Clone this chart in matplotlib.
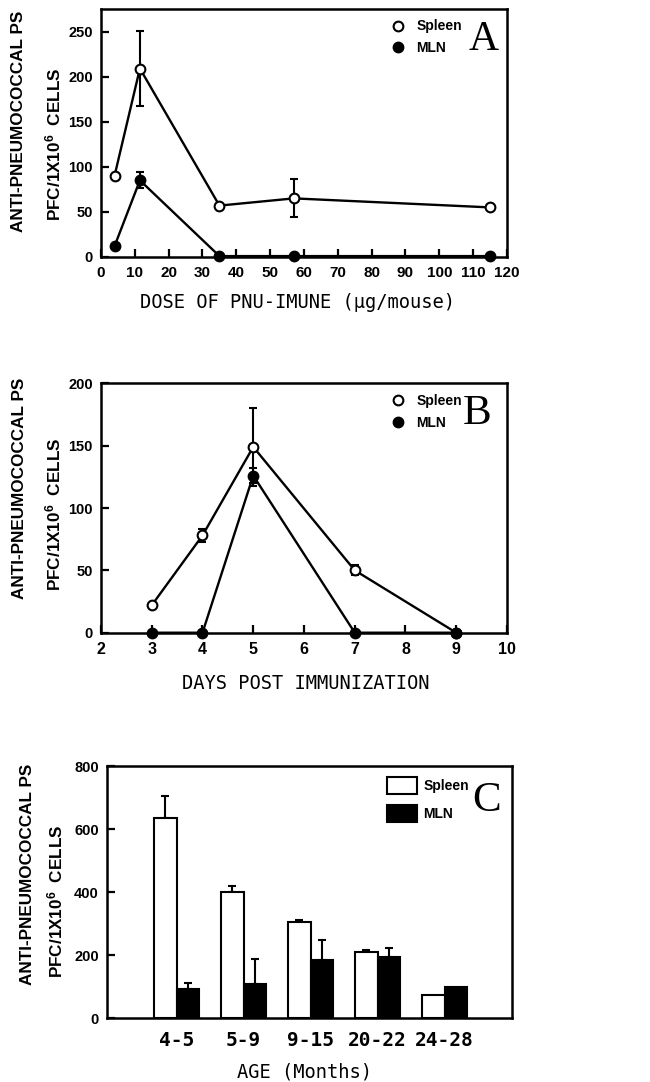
import matplotlib
matplotlib.use('Agg')
import matplotlib.pyplot as plt
import numpy as np
from matplotlib.lines import Line2D
from matplotlib.patches import Patch

plt.rcParams['font.family'] = ['Liberation Sans', 'DejaVu Sans']
plt.rcParams['mathtext.fontset'] = 'custom'
plt.rcParams['mathtext.bf'] = 'Liberation Sans:bold'
plt.rcParams['mathtext.rm'] = 'Liberation Sans:bold'
plt.rcParams['mathtext.default'] = 'bf'

# ---------------- data ----------------
# Panel A
dose = [4, 11.5, 35, 57, 115]
a_spleen = [90, 209, 57, 65, 55]
a_spleen_err = [0, 42, 0, 21, 0]
a_mln = [12, 85, 1, 1, 1]
a_mln_err = [0, 9, 0, 0, 0]
a_xticks = list(range(0, 121, 10))
a_yticks = [0, 50, 100, 150, 200, 250]

# Panel B
days = [3, 4, 5, 7, 9]
b_spleen = [22, 78, 149, 50, 0]
b_spleen_err = [0, 5, 31, 4, 0]
b_mln = [0, 0, 126, 0, 0]
b_mln_err = [0, 0, 6, 0, 0]
b_xticks = list(range(2, 11))
b_yticks = [0, 50, 100, 150, 200]

# Panel C
age_groups = ['4-5', '5-9', '9-15', '20-22', '24-28']
c_spleen = [635, 402, 305, 211, 74]
c_spleen_err = [69, 19, 7, 6, 0]
c_mln = [94, 109, 185, 194, 99]
c_mln_err = [19, 78, 63, 28, 0]
c_yticks = [0, 200, 400, 600, 800]

ylab1 = 'ANTI-PNEUMOCOCCAL PS'
ylab2 = r'PFC/1X10$^{6}$  CELLS'

W, H = 650, 1082
fig = plt.figure(figsize=(W / 100, H / 100), dpi=100)


def ax_at(l, r, t, b):
    return fig.add_axes([l / W, 1 - b / H, (r - l) / W, (b - t) / H])


LW = 1.7


def style(ax, xsize=11, ysize=10.5):
    for s in ax.spines.values():
        s.set_linewidth(1.8)
    ax.tick_params(direction='in', length=6, width=1.6, top=False, right=False)
    ax.tick_params(axis='y', pad=6)
    ax.tick_params(axis='x', pad=6.5)
    for lab in ax.get_xticklabels():
        lab.set_fontsize(xsize)
        lab.set_fontweight('bold')
    for lab in ax.get_yticklabels():
        lab.set_fontsize(ysize)
        lab.set_fontweight('bold')


def errs(ax, x, y, e, cap=3):
    idx = [i for i in range(len(e)) if e[i] > 0]
    if idx:
        ax.errorbar([x[i] for i in idx], [y[i] for i in idx],
                    yerr=[e[i] for i in idx], fmt='none', ecolor='black',
                    elinewidth=1.5, capsize=cap, capthick=1.5, zorder=2,
                    clip_on=False)


def ylabels(x1, y1, x2, y2):
    fig.text(x1 / W, 1 - y1 / H, ylab1, rotation=90, ha='center', va='center',
             fontsize=12.3, fontweight='bold')
    fig.text(x2 / W, 1 - y2 / H, ylab2, rotation=90, ha='center', va='center',
             fontsize=12.3, fontweight='bold')


def line_legend(ax, x0, y0):
    h = [Line2D([], [], ls='none', marker='o', ms=7, mfc='white', mec='black', mew=1.5),
         Line2D([], [], ls='none', marker='o', ms=7, mfc='black', mec='black', mew=1.5)]
    ax.legend(h, ['Spleen', 'MLN'], loc='upper left', bbox_to_anchor=(x0, y0),
              frameon=False, borderpad=0, borderaxespad=0, handlelength=1.0,
              handletextpad=0.85, labelspacing=0.55,
              prop=dict(family='Liberation Sans', weight='bold', size=10))


# ---------------- Panel A ----------------
axA = ax_at(101, 507, 9, 257)
errs(axA, dose, a_spleen, a_spleen_err)
errs(axA, dose, a_mln, a_mln_err)
axA.plot(dose, a_spleen, '-', color='black', lw=LW, marker='o', ms=7,
         mfc='white', mec='black', mew=1.5, zorder=3, clip_on=False)
axA.plot(dose, a_mln, '-', color='black', lw=LW, marker='o', ms=7,
         mfc='black', mec='black', mew=1.5, zorder=3, clip_on=False)
axA.set_xlim(0, 120)
axA.set_ylim(0, 275)
axA.set_xticks(a_xticks)
axA.set_yticks(a_yticks)
style(axA)
axA.set_xlabel(u'DOSE OF PNU-IMUNE (\u00b5g/mouse)', family='DejaVu Sans Mono',
               fontsize=13.5, va='center')
axA.xaxis.set_label_coords(0.484, -0.185)
line_legend(axA, 0.714, 0.958)
axA.text(0.943, 0.875, 'A', transform=axA.transAxes, ha='center', va='center',
         family='Liberation Serif', fontsize=30)
ylabels(19, 121.5, 53.5, 144.5)

# ---------------- Panel B ----------------
axB = ax_at(101, 507, 383.3, 632.7)
errs(axB, days, b_spleen, b_spleen_err)
errs(axB, days, b_mln, b_mln_err)
axB.plot(days, b_spleen, '-', color='black', lw=LW, marker='o', ms=7,
         mfc='white', mec='black', mew=1.5, zorder=3, clip_on=False)
axB.plot(days, b_mln, '-', color='black', lw=LW, marker='o', ms=7,
         mfc='black', mec='black', mew=1.5, zorder=3, clip_on=False)
axB.set_xlim(2, 10)
axB.set_ylim(0, 200)
axB.set_xticks(b_xticks)
axB.set_yticks(b_yticks)
style(axB, xsize=11.5)
axB.set_xlabel('DAYS POST IMMUNIZATION', family='DejaVu Sans Mono',
               fontsize=13.5, va='center')
axB.xaxis.set_label_coords(0.505, -0.202)
line_legend(axB, 0.714, 0.957)
axB.text(0.927, 0.878, 'B', transform=axB.transAxes, ha='center', va='center',
         family='Liberation Serif', fontsize=31)
ylabels(20, 488, 53.5, 514)

# ---------------- Panel C ----------------
axC = ax_at(107.3, 511.7, 766, 1018.3)
x = np.arange(len(age_groups))
w = 0.335
axC.bar(x - w / 2, c_spleen, w, color='white', edgecolor='black', lw=1.5, zorder=2)
axC.bar(x + w / 2, c_mln, w, color='black', edgecolor='black', lw=1.5, zorder=2)
for off, vals, e in [(-w / 2, c_spleen, c_spleen_err), (w / 2, c_mln, c_mln_err)]:
    idx = [i for i in range(len(e)) if e[i] > 0]
    axC.errorbar([x[i] + off for i in idx], [vals[i] for i in idx],
                 yerr=[[0] * len(idx), [e[i] for i in idx]], fmt='none',
                 ecolor='black', elinewidth=1.5, capsize=3, capthick=1.5, zorder=1)
axC.set_xlim(-1.035, 5.0)
axC.set_ylim(0, 800)
axC.set_xticks(x)
axC.set_xticklabels(age_groups)
axC.set_yticks(c_yticks)
style(axC)
axC.tick_params(axis='x', length=0, pad=9)
for lab in axC.get_xticklabels():
    lab.set_family('DejaVu Sans Mono')
    lab.set_fontweight('bold')
    lab.set_fontsize(14)
axC.set_xlabel('AGE (Months)', family='DejaVu Sans Mono', fontsize=13.5, va='center')
axC.xaxis.set_label_coords(0.488, -0.213)
hC = [Patch(facecolor='white', edgecolor='black', lw=1.5),
      Patch(facecolor='black', edgecolor='black', lw=1.5)]
axC.legend(hC, ['Spleen', 'MLN'], loc='upper left', bbox_to_anchor=(0.692, 0.956),
           frameon=False, borderpad=0, borderaxespad=0, handlelength=2.16,
           handleheight=1.45, handletextpad=0.43, labelspacing=0.85,
           prop=dict(family='Liberation Sans', weight='bold', size=10))
axC.text(0.939, 0.861, 'C', transform=axC.transAxes, ha='center', va='center',
         family='Liberation Serif', fontsize=31)
ylabels(28, 874, 55.5, 901)

fig.savefig('out.png', dpi=100)
